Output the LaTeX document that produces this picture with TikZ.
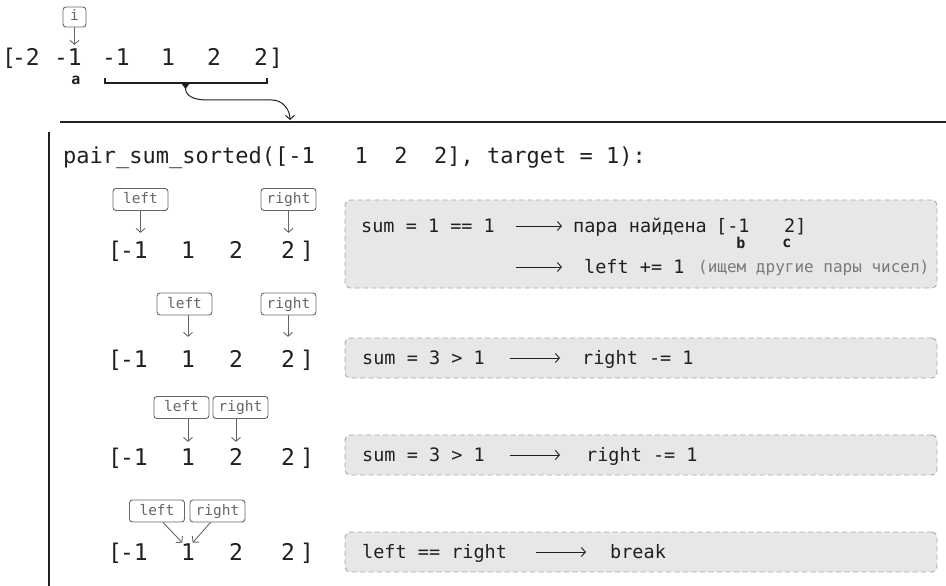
\documentclass[tikz,border=0pt]{standalone}
\usepackage{fontspec}
\setmonofont{DejaVu Sans Mono}
\usepackage{tikz}
\usetikzlibrary{arrows.meta}

\definecolor{ink}{HTML}{202020}
\definecolor{boxgray}{HTML}{E7E7E9}
\definecolor{dashgray}{HTML}{A8A8A8}
\definecolor{ptrgray}{HTML}{666666}
\definecolor{notegray}{HTML}{7A7A7A}

\tikzset{
  arr/.style={font=\ttfamily\fontsize{23}{27}\selectfont, text=ink, inner sep=0pt, text height=16.8pt, text depth=0pt},
  hdr/.style={font=\ttfamily\fontsize{22}{26}\selectfont, text=ink, inner sep=0pt, text height=16pt, text depth=0pt},
  code/.style={font=\ttfamily\fontsize{18.5}{22}\selectfont, text=ink, inner sep=0pt, text height=13.5pt, text depth=0pt},
  note/.style={font=\ttfamily\fontsize{16}{19}\selectfont, text=notegray, inner sep=0pt, text height=11.7pt, text depth=0pt},
  tag/.style={font=\ttfamily\bfseries\fontsize{15}{18}\selectfont, text=ink, inner sep=0pt},
  ptrbox/.style={draw=ptrgray, text=ptrgray, line width=0.9pt, rounded corners=3pt, font=\ttfamily\fontsize{14.5}{17}\selectfont, minimum width=55pt, minimum height=22pt, inner xsep=4pt, inner ysep=0pt, text height=10.5pt, text depth=2.5pt},
  ptrarr/.style={draw=ptrgray, line width=0.9pt, -{Straight Barb[length=4pt,width=9pt]}, shorten >=8.5pt},
  cmt/.style={draw=dashgray, fill=boxgray, dash pattern=on 5pt off 3.5pt, line width=0.9pt, rounded corners=5pt, minimum width=592pt},
  lra/.style={draw=ink, line width=0.9pt, -{Straight Barb[length=4pt,width=9pt]}},
  rule/.style={draw=ink, line width=2.6pt},
}

\begin{document}
\begin{tikzpicture}[x=1pt,y=-1pt]
\useasboundingbox (0,0) rectangle (946,586);

% input array
\node[arr] (t0) at (9,57) {[};
\node[arr] (t1) at (26,57) {-2};
\node[arr] (t2) at (68,57) {-1};
\node[arr] (t3) at (116,57) {-1};
\node[arr] (t4) at (168,57) {1};
\node[arr] (t5) at (214,57) {2};
\node[arr] (t6) at (261,57) {2};
\node[arr] (t7) at (276,57) {]};
\node[ptrbox, minimum width=23pt, minimum height=20pt, inner xsep=2pt] (pi) at (74.5,17) {i};
\draw[ptrarr, shorten >=3.5pt] (pi.south) -- (pi.south |- t2.north);
\node[tag] (ta) at (76,80) {a};

% bracket and call
\draw[ink, line width=2pt] (105,78) -- (105,83) -- (267,83) -- (267,78);
\fill[ink] (181,83) -- (190,83) -- (185.5,89) -- cycle;
\coordinate (brk) at (185.5,88);
\coordinate (call) at (290,120);
\draw[lra, line width=1pt] (brk) to[out=-90,in=180] (207,100) -- (272,100) to[out=0,in=90] (call);
\draw[rule] (60,122) -- (946,122);
\draw[rule] (49,132) -- (49,586);

\node[hdr, anchor=west] (head) at (63,155) {pair\_sum\_sorted([-1~~~1~~2~~2], target = 1):};

% step 1
\node[ptrbox] (l1) at (140.5,199.5) {left};
\node[ptrbox] (q1) at (288.5,199.5) {right};
\node[arr] (r1o) at (115,250) {[};
\node[arr] (r1n1) at (134,250) {-1};
\node[arr] (r1n2) at (188,250) {1};
\node[arr] (r1n3) at (236,250) {2};
\node[arr] (r1n4) at (288,250) {2};
\node[arr] (r1c) at (307,250) {]};
\draw[ptrarr] (l1.south) -- (l1.south |- r1n1.north);
\draw[ptrarr] (q1.south) -- (q1.south |- r1n4.north);
\node[cmt, minimum height=88pt] (c1) at (641,244) {};
\node[code, anchor=west] (s1) at (361,226) {sum = 1 == 1};
\node[code, anchor=west] (f1) at (573,226) {пара найдена};
\node[code, anchor=west] (f1a) at (716,226) {[-1};
\node[code, anchor=west] (f1b) at (784,226) {2]};
\node[tag] (tb) at (741,243) {b};
\node[tag] (tc) at (787,243) {c};
\node[code, anchor=west] (m1) at (584,267) {left += 1};
\node[note, anchor=west] (n1) at (698,267) {(ищем другие пары чисел)};
\coordinate (a1) at (516,267);
\draw[lra] ([xshift=21pt]s1.east) -- ([xshift=-11pt]f1.west);
\draw[lra] (a1) -- ([xshift=-22pt]m1.west);

% step 2
\node[ptrbox] (l2) at (184.5,304) {left};
\node[ptrbox] (q2) at (288.5,304) {right};
\node[arr] (r2o) at (115,359) {[};
\node[arr] (r2n1) at (134,359) {-1};
\node[arr] (r2n2) at (188,359) {1};
\node[arr] (r2n3) at (236,359) {2};
\node[arr] (r2n4) at (288,359) {2};
\node[arr] (r2c) at (307,359) {]};
\draw[ptrarr, shorten >=13.5pt] (l2.south -| r2n2.north) -- (r2n2.north);
\draw[ptrarr, shorten >=13.5pt] (q2.south -| r2n4.north) -- (r2n4.north);
\node[cmt, minimum height=40pt] (c2) at (641,358) {};
\node[code, anchor=west] (s2) at (362,358) {sum = 3 > 1};
\node[code, anchor=west] (m2) at (582,358) {right -= 1};
\draw[lra] ([xshift=25pt]s2.east) -- ([xshift=-22pt]m2.west);

% step 3
\node[ptrbox] (l3) at (181.5,407.5) {left};
\node[ptrbox] (q3) at (240.5,407.5) {right};
\node[arr] (r3o) at (115,457) {[};
\node[arr] (r3n1) at (134,457) {-1};
\node[arr] (r3n2) at (188,457) {1};
\node[arr] (r3n3) at (236,457) {2};
\node[arr] (r3n4) at (288,457) {2};
\node[arr] (r3c) at (307,457) {]};
\draw[ptrarr, shorten >=6.5pt] (l3.south -| r3n2.north) -- (r3n2.north);
\draw[ptrarr, shorten >=6.5pt] (q3.south -| r3n3.north) -- (r3n3.north);
\node[cmt, minimum height=40pt] (c3) at (641,455) {};
\node[code, anchor=west] (s3) at (362,455) {sum = 3 > 1};
\node[code, anchor=west] (m3) at (586,455) {right -= 1};
\draw[lra] ([xshift=25pt]s3.east) -- ([xshift=-26pt]m3.west);

% step 4
\node[ptrbox] (l4) at (157,511) {left};
\node[ptrbox] (q4) at (217.5,511) {right};
\node[arr] (r4o) at (115,552) {[};
\node[arr] (r4n1) at (134,552) {-1};
\node[arr] (r4n2) at (188,552) {1};
\node[arr] (r4n3) at (236,552) {2};
\node[arr] (r4n4) at (288,552) {2};
\node[arr] (r4c) at (307,552) {]};
\draw[ptrarr, shorten >=1pt] ([xshift=6pt]l4.south) -- ([xshift=-5pt]r4n2.north);
\draw[ptrarr, shorten >=1pt] ([xshift=-7pt]q4.south) -- ([xshift=4pt]r4n2.north);
\node[cmt, minimum height=40pt] (c4) at (641,552) {};
\node[code, anchor=west] (s4) at (362,552) {left == right};
\node[code, anchor=west] (m4) at (610,552) {break};
\draw[lra] ([xshift=29pt]s4.east) -- ([xshift=-24pt]m4.west);
\end{tikzpicture}
\end{document}
